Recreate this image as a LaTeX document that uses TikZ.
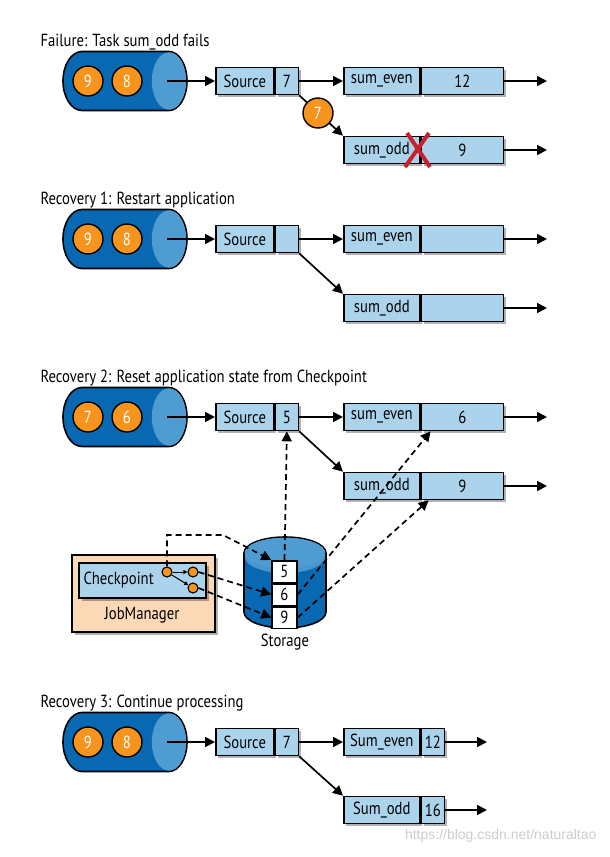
\documentclass[tikz,border=0pt]{standalone}
\usepackage{fontspec}
\setmainfont{PT Sans}[FakeStretch=0.84]
\newfontfamily\wmfont{Liberation Sans}
\usepackage{tikz}
\usetikzlibrary{arrows.meta,positioning,shadows}
\definecolor{qdark}{RGB}{8,104,178}
\definecolor{qlight}{RGB}{78,156,210}
\definecolor{slight}{RGB}{72,150,207}
\definecolor{boxblue}{RGB}{172,211,236}
\definecolor{ballorange}{RGB}{247,148,30}
\definecolor{jmpeach}{RGB}{252,217,182}
\definecolor{xred}{RGB}{200,32,46}

\begin{document}
\begin{tikzpicture}[x=1pt, y=-1pt,
  font=\fontsize{17.5}{20}\selectfont,
  headline/.style={anchor=base west},
  opbox/.style={draw, line width=1.6pt, fill=boxblue, minimum height=27pt,
                inner sep=0pt,
                drop shadow={shadow xshift=2.5pt, shadow yshift=-2.5pt,
                             fill=black, opacity=0.3}},
  namecell/.style={opbox, anchor=west},
  ball/.style={circle, draw, line width=1.4pt, fill=ballorange, text=white,
               minimum size=30pt, inner sep=0pt},
  ckdot/.style={circle, draw, line width=1.1pt, fill=ballorange,
                minimum size=10pt, inner sep=0pt},
  stcell/.style={draw, line width=1.5pt, fill=white, minimum width=25pt,
                 minimum height=21.5pt, inner sep=0pt},
  jmbox/.style={draw, line width=1.6pt, fill=jmpeach, minimum width=143pt,
                minimum height=77pt,
                drop shadow={shadow xshift=2.5pt, shadow yshift=-2.5pt,
                             fill=black, opacity=0.3}},
  flow/.style={-{Triangle[length=10pt,width=10pt]}, line width=1.7pt},
  ckflow/.style={flow, dash pattern=on 6pt off 4pt}
]
\useasboundingbox (0,0) rectangle (610,857);

% --- section titles ---
\node[headline] (t1) at (37,46) {Failure: Task sum\_odd fails};
\node[headline] (t2) at (37,204) {Recovery 1: Restart application};
\node[headline] (t3) at (37,382) {Recovery 2: Reset application state from Checkpoint};
\node[headline] (t4) at (37,707) {Recovery 3: Continue processing};

% --- input queues and sources ---
\foreach \s/\y/\a/\b/\v in {1/81/9/8/7, 2/239/9/8/{}, 3/417/7/6/5, 4/742/9/8/7} {
  \filldraw[fill=qdark, line width=1.6pt]
    (82,\y-29.5) -- (169,\y-29.5)
    arc[start angle=90, end angle=-90, x radius=18pt, y radius=29.5pt]
    -- (82,\y+29.5)
    arc[start angle=270, end angle=90, x radius=19pt, y radius=29.5pt] -- cycle;
  \fill[qlight] (169,\y) ellipse[x radius=17.2pt, y radius=28.7pt];
  \node[ball] (ba\s) at (88,\y) {\a};
  \node[ball] (bb\s) at (127,\y) {\b};
  \coordinate (q\s) at (167,\y);
  \node[namecell, minimum width=58pt] (src\s) at (215,\y) {Source};
  \node[opbox, minimum width=23pt, right=0pt of src\s] (srcv\s) {\v};
  \draw[flow] (q\s) -- (src\s);
}

% --- sum operators (failure, recovery 1, recovery 2) ---
\foreach \s/\y/\e/\o in {1/81/12/9, 2/239/{}/{}, 3/417/6/9} {
  \node[namecell, minimum width=76pt] (ev\s) at (343,\y) {sum\_even};
  \node[opbox, minimum width=82pt, right=0pt of ev\s] (evv\s) {\e};
  \node[namecell, minimum width=76pt] (od\s) at (343,\y+69) {sum\_odd};
  \node[opbox, minimum width=82pt, right=0pt of od\s] (odv\s) {\o};
  \coordinate (eo\s) at (547,\y);
  \coordinate (oo\s) at (547,\y+69);
  \draw[flow] (srcv\s) -- (ev\s);
  \draw[flow] (srcv\s.south east) -- (od\s.north west);
  \draw[flow] (evv\s) -- (eo\s);
  \draw[flow] (odv\s) -- (oo\s);
}

% record in flight + failed task
\node[ball] (msg) at (318,113) {7};
\draw[xred, line width=4pt] (405,167) -- (429,133) (407,133) -- (430,167);

% --- recovery 3 ---
\node[namecell, minimum width=76pt] (ev4) at (343,742) {Sum\_even};
\node[opbox, minimum width=23pt, right=0pt of ev4] (evv4) {12};
\node[namecell, minimum width=76pt] (od4) at (343,810) {Sum\_odd};
\node[opbox, minimum width=23pt, right=0pt of od4] (odv4) {16};
\coordinate (eo4) at (487,742);
\coordinate (oo4) at (487,810);
\draw[flow] (srcv4) -- (ev4);
\draw[flow] (srcv4.south east) -- (od4.north west);
\draw[flow] (evv4) -- (eo4);
\draw[flow] (odv4) -- (oo4);

% --- jobmanager + checkpoint ---
\node[jmbox] (jm) at (143.5,593.5) {};
\node (jml) at (142,615) {JobManager};
\node[opbox, line width=2pt, minimum width=127pt, minimum height=35pt]
  (ck) at (142.5,580.5) {};
\node[anchor=west] (ckl) at ([xshift=2pt]ck.west) {Checkpoint};
\node[ckdot] (c1) at (167,572) {};
\node[ckdot] (c2) at (193,572) {};
\node[ckdot] (c3) at (193,588) {};
\draw[-{Triangle[length=4pt,width=4pt]}, line width=1pt] (c1) -- (c2);
\draw[-{Triangle[length=4pt,width=4pt]}, line width=1pt] (c1) -- (c3);

% --- storage ---
\filldraw[fill=qdark, line width=1.6pt]
  (244,553) -- (244,612)
  arc[start angle=180, end angle=360, x radius=41pt, y radius=16pt]
  -- (326,553)
  arc[start angle=0, end angle=180, x radius=41pt, y radius=16pt] -- cycle;
\fill[slight] (244.8,553) -- (244.8,557)
  arc[start angle=180, end angle=360, x radius=40.2pt, y radius=16pt]
  -- (325.2,553)
  arc[start angle=0, end angle=180, x radius=40.2pt, y radius=15.2pt] -- cycle;
\fill[qlight] (285,553) ellipse[x radius=40.2pt, y radius=15.2pt];
\node[stcell] (st5) at (284.5,571.5) {5};
\node[stcell, below=0pt of st5] (st6) {6};
\node[stcell, below=0pt of st6] (st9) {9};
\node (stl) at (285,642) {Storage};

% --- checkpoint restore paths ---
\coordinate (bend) at (223,535);
\draw[ckflow] (c1.north) |- (bend) -- (st5.north west);
\draw[ckflow] (c2.east) -- (st6.west);
\draw[ckflow] (c3.east) -- (st9.west);
\draw[ckflow] (st5.north) -- (srcv3.south);
\draw[ckflow] (st6.east) -- ([xshift=10pt]evv3.south west);
\draw[ckflow] (st9.east) -- ([xshift=8pt]odv3.south west);

\node[anchor=east, text=gray!40, font=\wmfont\fontsize{14}{16}\selectfont]
  (wm) at (600,836) {https://blog.csdn.net/naturaltao};

\end{tikzpicture}
\end{document}
